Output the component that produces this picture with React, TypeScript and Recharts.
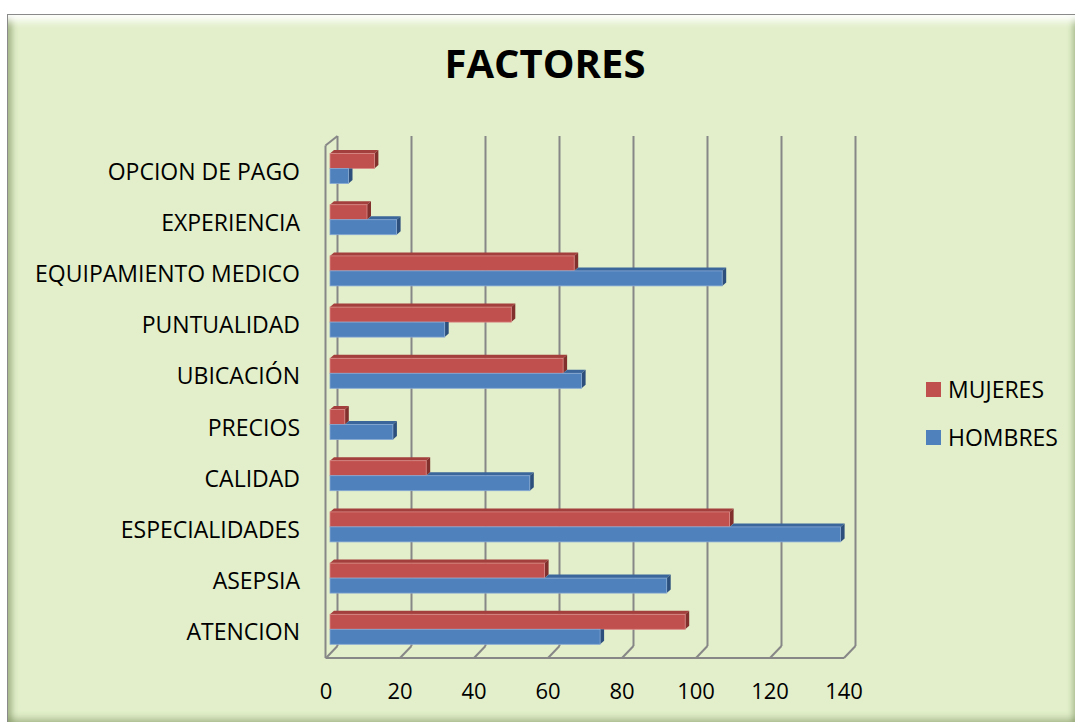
import React from 'react';
import { BarChart, Bar, XAxis, YAxis, CartesianGrid, Legend } from 'recharts';

const categories = ['OPCION DE PAGO', 'EXPERIENCIA', 'EQUIPAMIENTO MEDICO', 'PUNTUALIDAD', 'UBICACIÓN', 'PRECIOS', 'CALIDAD', 'ESPECIALIDADES', 'ASEPSIA', 'ATENCION'];
const mujeres = [12, 10, 66, 49, 63, 4, 26, 108, 58, 96];
const hombres = [5, 18, 106, 31, 68, 17, 54, 138, 91, 73];
const xTicks = [0, 20, 40, 60, 80, 100, 120, 140];
const seriesOrder = ['MUJERES', 'HOMBRES'];

const data = categories.map((name, i) => ({ name, MUJERES: mujeres[i], HOMBRES: hombres[i] }));

const FONT = '"Open Sans", sans-serif';
const GRID = '#878787';
const D = 4; // depth x
const DD = 3.5; // depth y

const RED = { front: '#C0504D', top: '#A33F3C', side: '#82302E', edge: '#D98886' };
const BLUE = { front: '#4F81BD', top: '#3B669B', side: '#2C4F7C', edge: '#86A8D3' };

const mShape = (p: any) => {
  const { x, y, width, height } = p;
  if (!width || width <= 0) return <g />;
  const c = RED;
  return (
    <g>
      <polygon points={`${x},${y} ${x + D},${y - DD} ${x + width + D},${y - DD} ${x + width},${y}`} fill={c.top} />
      <polygon points={`${x + width},${y} ${x + width + D},${y - DD} ${x + width + D},${y + height - DD} ${x + width},${y + height}`} fill={c.side} />
      <rect x={x} y={y} width={width} height={height} fill={c.front} stroke={c.edge} strokeWidth={0.8} />
    </g>
  );
};

const hShape = (p: any) => {
  const { x, y, width, height, payload } = p;
  if (!width || width <= 0) return <g />;
  const c = BLUE;
  const pxPerUnit = width / payload.HOMBRES;
  const mEnd = x + payload.MUJERES * pxPerUnit;
  const right = x + width;
  const xs = Math.max(x, mEnd);
  const covered = mEnd > right;
  return (
    <g>
      {!covered && (
        <polygon points={`${xs},${y} ${xs + D},${y - DD} ${right + D},${y - DD} ${right},${y}`} fill={c.top} />
      )}
      {covered ? (
        <polygon points={`${right},${y} ${right + D},${y} ${right + D},${y + height - DD} ${right},${y + height}`} fill={c.side} />
      ) : (
        <polygon points={`${right},${y} ${right + D},${y - DD} ${right + D},${y + height - DD} ${right},${y + height}`} fill={c.side} />
      )}
      <rect x={x} y={y} width={width} height={height} fill={c.front} stroke={c.edge} strokeWidth={0.8} />
    </g>
  );
};

const gridLine = (p: any) => {
  const x = p.x1;
  const top = p.y1;
  const bottom = p.y2;
  const backX = x + 7.5;
  const backTop = top - 6.5;
  const backBottom = bottom - 8.5;
  const frontY = bottom + 3.5;
  const plotRight = (p.x ?? 0) + (p.width ?? 0);
  return (
    <g key={`vg-${p.index}`}>
      <line x1={backX} y1={backTop} x2={backX} y2={backBottom} stroke={GRID} strokeWidth={2} />
      <line x1={backX} y1={backBottom} x2={x - 4} y2={frontY} stroke={GRID} strokeWidth={2} />
      {p.index === 0 && (
        <g>
          <line x1={x - 4.5} y1={top + 3} x2={x - 4.5} y2={frontY} stroke={GRID} strokeWidth={2} />
          <line x1={x - 4.5} y1={top + 3} x2={backX} y2={backTop} stroke={GRID} strokeWidth={2} />
          <line x1={x - 4.5} y1={frontY} x2={plotRight - 4} y2={frontY} stroke={GRID} strokeWidth={2} />
        </g>
      )}
    </g>
  );
};

const YTick = (p: any) => (
  <text x={p.x} y={p.y + 11.5} textAnchor="end" fontFamily={FONT} fontSize={23} fill="#000">
    {p.payload.value}
  </text>
);

const XTick = (p: any) => (
  <text x={p.x - 4} y={p.y + 44} textAnchor="middle" fontFamily={FONT} fontSize={22} fill="#000">
    {p.payload.value}
  </text>
);

const renderLegend = (props: any) => {
  const items = [...(props.payload || [])].sort(
    (a: any, b: any) => seriesOrder.indexOf(a.value) - seriesOrder.indexOf(b.value)
  );
  return (
    <div>
      {items.map((e: any, i: number) => (
        <div key={i} style={{ display: 'flex', alignItems: 'center', height: 48.5 }}>
          <span style={{ display: 'inline-block', width: 15, height: 15, background: e.color, marginRight: 7 }} />
          <span style={{ fontFamily: FONT, fontSize: 23, color: '#000', lineHeight: 1 }}>{e.value}</span>
        </div>
      ))}
    </div>
  );
};

export default function App() {
  return (
    <div style={{ position: 'absolute', left: 0, top: 0, width: 1075, height: 722, background: '#fff', overflow: 'hidden' }}>
      <div
        style={{
          position: 'absolute',
          left: 7,
          top: 14,
          width: 1068,
          height: 708,
          boxSizing: 'border-box',
          background: '#E2EFCA',
          borderLeft: '1px solid #8a8a8a',
          borderTop: '1px solid #8a8a8a',
          boxShadow:
            'inset 0 14px 8px -8px #ffffff, inset 9px 0 6px -5px rgba(110,130,80,0.55), inset 0 -9px 6px -5px rgba(110,130,80,0.4), inset -6px 0 5px -3px rgba(110,130,80,0.4)',
        }}
      />
      <div
        style={{
          position: 'absolute',
          left: 345,
          top: 43,
          width: 400,
          textAlign: 'center',
          fontFamily: FONT,
          fontWeight: 700,
          fontSize: 40,
          lineHeight: 1,
          color: '#000',
        }}
      >
        FACTORES
      </div>
      <div style={{ position: 'absolute', left: 0, top: 0 }}>
        <BarChart
          width={1075}
          height={722}
          data={data}
          layout="vertical"
          margin={{ top: 142.5, right: 227, left: 0, bottom: 0 }}
          barCategoryGap={11}
          barGap={0}
        >
          <CartesianGrid horizontal={false} vertical={gridLine} />
          <XAxis
            type="number"
            domain={[0, 140]}
            ticks={xTicks}
            axisLine={false}
            tickLine={false}
            tickSize={0}
            tickMargin={0}
            height={67.5}
            tick={XTick}
            interval={0}
          />
          <YAxis
            type="category"
            dataKey="name"
            width={330}
            axisLine={false}
            tickLine={false}
            tickSize={0}
            tickMargin={30}
            tick={YTick}
            interval={0}
          />
          <Legend
            layout="vertical"
            align="center"
            verticalAlign="middle"
            content={renderLegend}
            wrapperStyle={{ position: 'absolute', left: 926, top: 365, width: 150 }}
          />
          <Bar dataKey="MUJERES" fill={RED.front} shape={mShape} isAnimationActive={false} />
          <Bar dataKey="HOMBRES" fill={BLUE.front} shape={hShape} isAnimationActive={false} />
        </BarChart>
      </div>
    </div>
  );
}
